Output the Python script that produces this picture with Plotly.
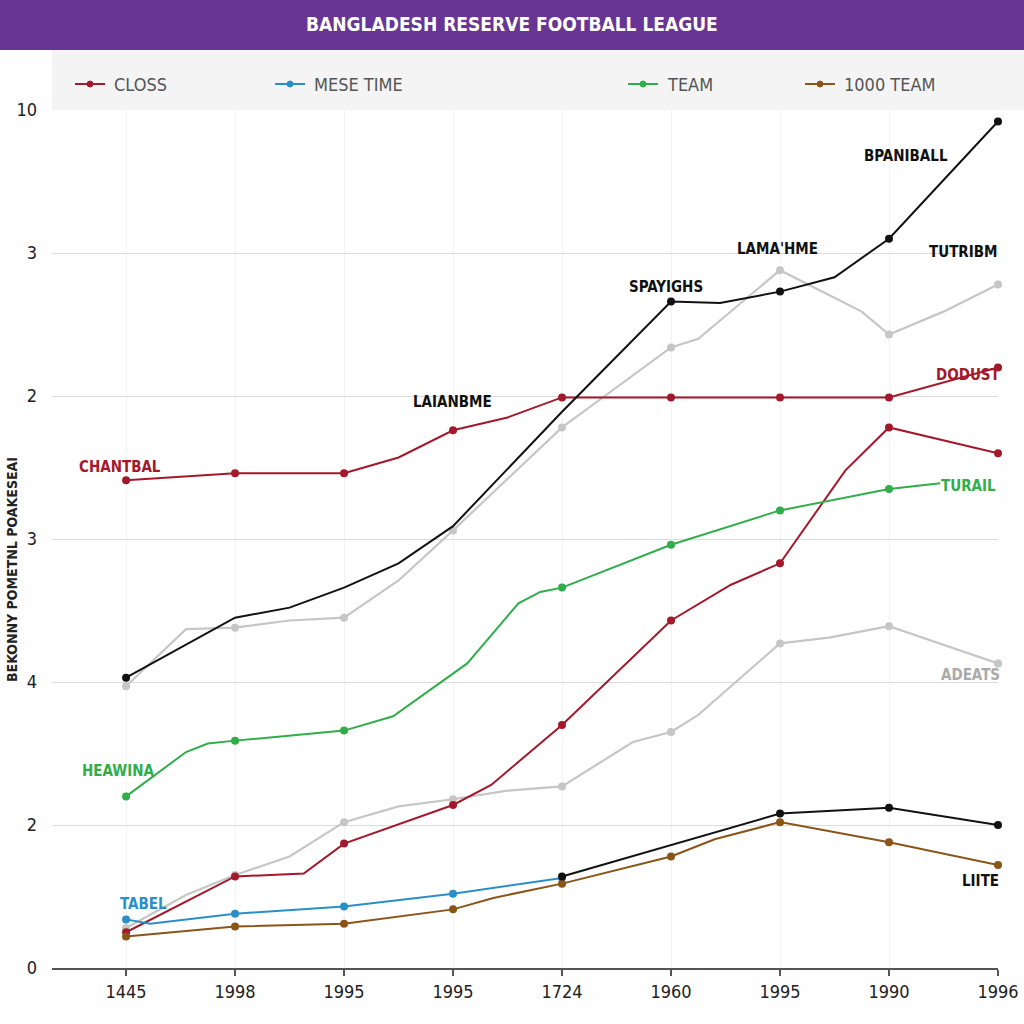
import plotly.graph_objects as go

# ---------------- data ----------------
x_ticks = [0, 1, 2, 3, 4, 5, 6, 7, 8]
x_tick_labels = ["1445", "1998", "1995", "1995", "1724", "1960", "1995", "1990", "1996"]
y_ticks = [0, 1, 2, 3, 4, 5, 6]
y_tick_labels = ["0", "2", "4", "3", "2", "3", "10"]

gray_top_x = [0, 0.55, 1, 1.5, 2, 2.5, 3, 4, 4.25, 5, 5.25, 6, 6.75, 7, 7.5, 8]
gray_top_y = [1.97, 2.37, 2.38, 2.43, 2.45, 2.71, 3.06, 3.78, 3.92, 4.34, 4.40, 4.88, 4.59, 4.43, 4.59, 4.78]

gray_low_x = [0, 0.55, 1, 1.5, 2, 2.5, 3, 3.5, 4, 4.65, 5, 5.25, 5.55, 6, 6.45, 7, 8]
gray_low_y = [0.28, 0.51, 0.65, 0.78, 1.02, 1.13, 1.18, 1.24, 1.27, 1.58, 1.65, 1.77, 1.97, 2.27, 2.31, 2.39, 2.13]

black_top_x = [0, 1, 1.5, 2, 2.5, 3, 4, 5, 5.45, 6, 6.5, 7, 8]
black_top_y = [2.03, 2.45, 2.52, 2.66, 2.83, 3.09, 3.89, 4.66, 4.65, 4.73, 4.83, 5.10, 5.92]

red_top_x = [0, 1, 2, 2.5, 3, 3.5, 4, 5, 6, 7, 8]
red_top_y = [3.41, 3.46, 3.46, 3.57, 3.76, 3.85, 3.99, 3.99, 3.99, 3.99, 4.20]

red_low_x = [0, 1, 1.63, 2, 3, 3.35, 4, 5, 5.55, 6, 6.6, 7, 8]
red_low_y = [0.25, 0.64, 0.66, 0.87, 1.14, 1.28, 1.70, 2.43, 2.68, 2.83, 3.48, 3.78, 3.60]

green_x = [0, 0.55, 0.75, 1, 2, 2.45, 3.13, 3.6, 3.8, 4, 5, 6, 7, 7.47]
green_y = [1.20, 1.51, 1.57, 1.59, 1.66, 1.76, 2.13, 2.55, 2.63, 2.66, 2.96, 3.20, 3.35, 3.39]

black_low_x = [4, 6, 7, 8]
black_low_y = [0.64, 1.08, 1.12, 1.00]

blue_x = [0, 0.22, 1, 2, 3, 4]
blue_y = [0.34, 0.31, 0.38, 0.43, 0.52, 0.63]

brown_x = [0, 1, 2, 2.5, 3, 3.37, 4, 5, 5.4, 6, 7, 8]
brown_y = [0.22, 0.29, 0.31, 0.36, 0.41, 0.49, 0.59, 0.78, 0.90, 1.02, 0.88, 0.72]

legend_names = ["CLOSS", "MESE TIME", "TEAM", "1000 TEAM"]

# ---------------- styling ----------------
RED = "#a3192b"
BLUE = "#2a8fc6"
GREEN = "#2fae4a"
BROWN = "#8a5518"
BLACK = "#111111"
GRAY = "#c6c6c6"
NARROW = "Liberation Sans Narrow, DejaVu Sans Condensed, Arial Narrow, sans-serif"

FIG_W, FIG_H = 1031, 1024
L, R, T, B = 52, 33, 110, 56
W = FIG_W - L - R
H = FIG_H - T - B


def px(x):
    return (x - L) / W


def py(y):
    return (FIG_H - B - y) / H


fig = go.Figure()

series = [
    (gray_top_x, gray_top_y, GRAY, 2.2, ()),
    (gray_low_x, gray_low_y, GRAY, 2.2, ()),
    (red_top_x, red_top_y, RED, 2.0, ()),
    (red_low_x, red_low_y, RED, 2.0, ()),
    (green_x, green_y, GREEN, 2.0, ()),
    (blue_x, blue_y, BLUE, 2.0, ()),
    (brown_x, brown_y, BROWN, 2.0, ()),
    (black_low_x, black_low_y, BLACK, 2.0, ()),
    (black_top_x, black_top_y, BLACK, 2.0, (1, 2, 3, 4)),
]

for xs, ys, col, lw, skip in series:
    fig.add_trace(go.Scatter(x=xs, y=ys, mode="lines", line=dict(color=col, width=lw),
                             hoverinfo="skip", showlegend=False, cliponaxis=False))
    mx = [a for a, b in zip(xs, ys) if float(a).is_integer() and a not in skip]
    my = [b for a, b in zip(xs, ys) if float(a).is_integer() and a not in skip]
    fig.add_trace(go.Scatter(x=mx, y=my, mode="markers", marker=dict(color=col, size=8),
                             hoverinfo="skip", showlegend=False, cliponaxis=False))

shapes = []
annotations = []

# title bar and legend band
shapes.append(dict(type="rect", xref="paper", yref="paper", x0=px(0), x1=px(FIG_W),
                   y0=py(50), y1=py(0), fillcolor="#673593", line=dict(width=0), layer="below"))
shapes.append(dict(type="rect", xref="paper", yref="paper", x0=px(52), x1=px(FIG_W),
                   y0=py(110), y1=py(50), fillcolor="#f4f4f4", line=dict(width=0), layer="below"))
annotations.append(dict(text="<b>BANGLADESH RESERVE FOOTBALL LEAGUE</b>", xref="paper", yref="paper",
                        x=px(512), y=py(24), showarrow=False, xanchor="center", yanchor="middle",
                        font=dict(family=NARROW, size=19, color="white")))

# legend (manual)
leg_colors = [RED, BLUE, GREEN, BROWN]
leg_x = [75, 275, 628, 805]
for name, col, x0 in zip(legend_names, leg_colors, leg_x):
    shapes.append(dict(type="line", xref="paper", yref="paper", x0=px(x0), x1=px(x0 + 30),
                       y0=py(84), y1=py(84), line=dict(color=col, width=2)))
    shapes.append(dict(type="circle", xref="paper", yref="paper", x0=px(x0 + 12), x1=px(x0 + 18),
                       y0=py(87), y1=py(81), fillcolor=col, line=dict(color=col, width=1)))
    annotations.append(dict(text=name, xref="paper", yref="paper", x=px(x0 + 37), y=py(84),
                            showarrow=False, xanchor="left", yanchor="middle",
                            font=dict(family=NARROW, size=18, color="#555555")))

# point labels
labels = [
    ("BPANIBALL", 906, 156, BLACK),
    ("TUTRIBM", 963, 252, BLACK),
    ("LAMA'HME", 777, 249, BLACK),
    ("SPAYIGHS", 666, 287, BLACK),
    ("LAIANBME", 452, 402, BLACK),
    ("CHANTBAL", 120, 467, RED),
    ("DODUST", 968, 375, RED),
    ("TURAIL", 968, 486, GREEN),
    ("ADEATS", 970, 675, "#aaaaaa"),
    ("HEAWINA", 118, 771, GREEN),
    ("TABEL", 143, 904, BLUE),
    ("LIITE", 980, 881, BLACK),
]
for txt, x, y, col in labels:
    annotations.append(dict(text="<b>" + txt + "</b>", xref="paper", yref="paper", x=px(x), y=py(y),
                            showarrow=False, xanchor="center", yanchor="middle",
                            font=dict(family=NARROW, size=15, color=col)))

# y-axis title
annotations.append(dict(text="<b>BEKONNY POMETNL POAKESEAI</b>", xref="paper", yref="paper",
                        x=px(12), y=py(570), showarrow=False, textangle=-90,
                        xanchor="center", yanchor="middle",
                        font=dict(family=NARROW, size=14, color="#222222")))

fig.update_layout(
    width=FIG_W, height=FIG_H, autosize=False,
    margin=dict(l=L, r=R, t=T, b=B),
    paper_bgcolor="#fefefe",
    plot_bgcolor="#ffffff",
    shapes=shapes,
    annotations=annotations,
    showlegend=False,
    xaxis=dict(range=[(L - 126) / 108.9, 8.0], tickmode="array", tickvals=x_ticks, ticktext=x_tick_labels,
               showgrid=True, gridcolor="#f3f3f3", gridwidth=1, zeroline=False,
               showline=True, linecolor="#555555", linewidth=2,
               ticks="outside", ticklen=6, tickcolor="#555555", tickwidth=1.5,
               tickfont=dict(family=NARROW, size=18, color="#222222")),
    yaxis=dict(range=[0, 6], tickmode="array", tickvals=y_ticks, ticktext=y_tick_labels,
               showgrid=True, gridcolor="#dcdcdc", gridwidth=1.2, zeroline=False,
               showline=False, ticks="", ticklabelstandoff=14,
               tickfont=dict(family=NARROW, size=18, color="#222222")),
)

fig.write_html("out.html", config={"responsive": False})
